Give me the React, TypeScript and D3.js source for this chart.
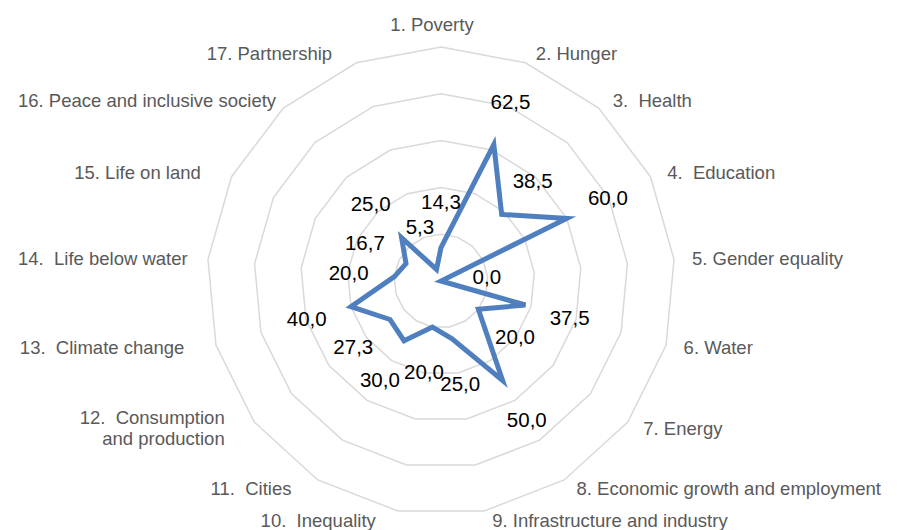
import React, { useEffect, useRef } from 'react'
import * as d3 from 'd3'

const goals = [
  '1. Poverty',
  '2. Hunger',
  '3.  Health',
  '4.  Education',
  '5. Gender equality',
  '6. Water',
  '7. Energy',
  '8. Economic growth and employment',
  '9. Infrastructure and industry',
  '10.  Inequality',
  '11.  Cities',
  '12.  Consumption\nand production',
  '13.  Climate change',
  '14.  Life below water',
  '15. Life on land',
  '16. Peace and inclusive society',
  '17. Partnership'
]

const scores = [14.3, 62.5, 38.5, 60.0, 0.0, 37.5, 20.0, 50.0, 25.0, 20.0, 30.0, 27.3, 40.0, 20.0, 16.7, 25.0, 5.3]

const ringTicks = [20, 40, 60, 80, 100]

const width = 897
const height = 530

export default function App() {
  const svgRef = useRef<SVGSVGElement>(null)

  useEffect(() => {
    if (!svgRef.current) return
    const svg = d3.select(svgRef.current)
    svg.selectAll('*').remove()

    const cx = 441
    const cy = 281
    const R = 234
    const edge = 18 // keep labels inside the chart area
    const font = 'Arial, "Liberation Sans", sans-serif'

    const rScale = d3.scaleLinear().domain([0, 100]).range([0, R])
    const angle = d3.scaleLinear().domain([0, goals.length]).range([0, 2 * Math.PI])

    const g = svg.append('g').attr('transform', `translate(${cx},${cy})`)

    // grid rings (polygons, no spokes)
    const ring = d3.lineRadial<number>()
      .angle((_, i) => angle(i))
      .radius(d => rScale(d))
      .curve(d3.curveLinearClosed)

    g.selectAll('.ring')
      .data(ringTicks)
      .enter().append('path')
      .attr('class', 'ring')
      .attr('d', t => ring(goals.map(() => t)))
      .attr('fill', 'none')
      .attr('stroke', '#d9d9d9')
      .attr('stroke-width', 1.5)

    // series
    g.append('path')
      .attr('d', ring(scores))
      .attr('fill', 'none')
      .attr('stroke', '#4f7fbf')
      .attr('stroke-width', 5)
      .attr('stroke-linejoin', 'miter')

    // data labels, pushed out radially
    g.selectAll('.dlabel')
      .data(scores)
      .enter().append('text')
      .attr('class', 'dlabel')
      .attr('x', (d, i) => (rScale(d) + 46) * Math.sin(angle(i)))
      .attr('y', (d, i) => -(rScale(d) + 46) * Math.cos(angle(i)))
      .attr('dy', '0.35em')
      .attr('text-anchor', 'middle')
      .style('font-family', font)
      .style('font-size', '20.5px')
      .style('fill', '#000')
      .text(d => d.toFixed(1).replace('.', ','))

    // category labels
    g.selectAll('.cat')
      .data(goals)
      .enter().append('text')
      .attr('class', 'cat')
      .style('font-family', font)
      .style('font-size', '18.5px')
      .style('fill', '#595959')
      .style('white-space', 'pre')
      .attr('xml:space', 'preserve')
      .each(function (d, i) {
        const a = angle(i)
        const s = Math.sin(a)
        const c = Math.cos(a)
        const anchor = s > 0.1 ? 'start' : s < -0.1 ? 'end' : 'middle'
        const nudge = anchor === 'start' ? 6 : anchor === 'end' ? -20 : -9
        let x = (R + 12) * s + nudge
        const lines = d.split('\n')
        let y = -(R + 10) * c - (anchor === 'middle' ? 12 : 0)
        y += (-(lines.length - 1) * 21) / 2
        const t = d3.select(this).attr('text-anchor', anchor)
        const spans = lines.map((ln, k) =>
          t.append('tspan')
            .attr('x', x)
            .attr('y', y + k * 21)
            .attr('dy', '0.35em')
            .text(ln)
        )
        // shift labels that would run past the left/right edge
        const node = this as SVGTextElement
        const w = node.getComputedTextLength ? d3.max(spans, sp => (sp.node() as SVGTSpanElement).getComputedTextLength()) || 0 : 0
        if (anchor === 'end' && cx + x - w < edge) x = edge + w - cx
        if (anchor === 'start' && cx + x + w > width - 2) x = width - 2 - w - cx
        spans.forEach(sp => sp.attr('x', x))
      })
  }, [])

  return (
    <svg
      ref={svgRef}
      width={width}
      height={height}
      style={{ position: 'absolute', left: 0, top: 0, background: '#fff' }}
    />
  )
}
